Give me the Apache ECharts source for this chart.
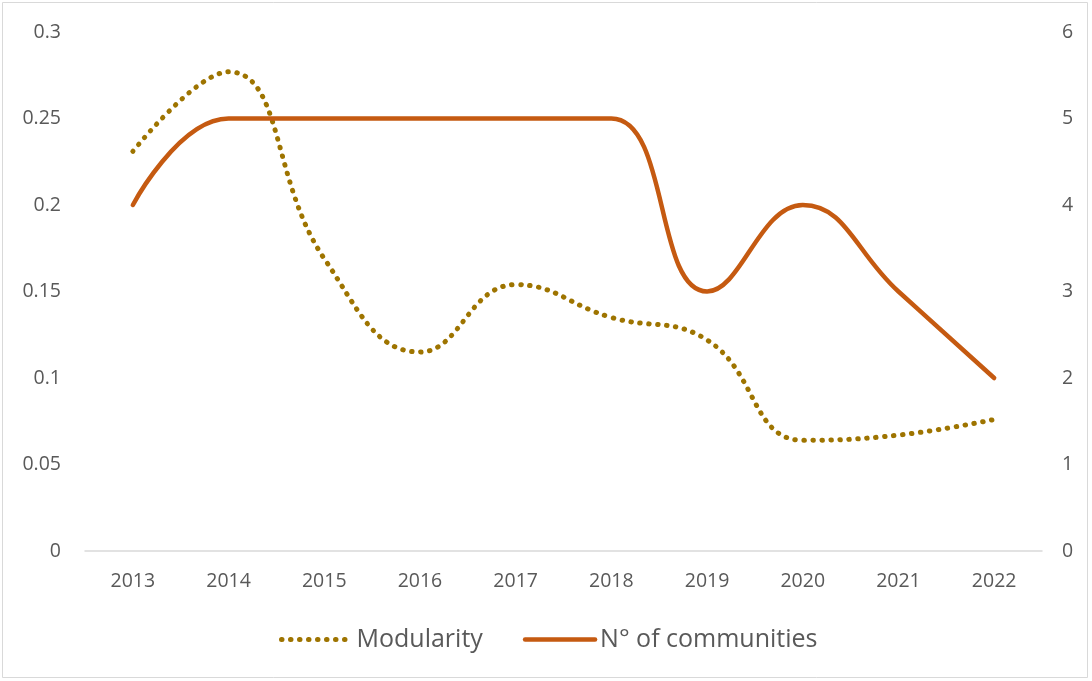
<!DOCTYPE html>
<html>
<head>
<meta charset="utf-8">
<script src="https://cdn.jsdelivr.net/npm/echarts@6/dist/echarts.min.js"></script>
<style>
  html, body { margin: 0; padding: 0; background: #fff; }
  #chart { width: 1092px; height: 681px; }
</style>
</head>
<body>
<div id="chart"></div>
<script>
// data
const years = ['2013', '2014', '2015', '2016', '2017', '2018', '2019', '2020', '2021', '2022'];
const modularity = [0.231, 0.277, 0.169, 0.115, 0.154, 0.135, 0.122, 0.064, 0.067, 0.076];
const communities = [4, 5, 5, 5, 5, 5, 3, 4, 3, 2];

const labelFont = '"Open Sans", "Liberation Sans", sans-serif';
const dotted = { color: '#9e7400', width: 5, type: [0.5, 8.5], cap: 'round' };
const solid = { color: '#c55a11', width: 4.5, cap: 'round' };

const myChart = echarts.init(document.getElementById('chart'));
myChart.setOption({
  backgroundColor: '#ffffff',
  animation: false,
  graphic: [{
    type: 'rect',
    shape: { x: 2.5, y: 2.5, width: 1085, height: 675 },
    style: { fill: 'none', stroke: '#d9d9d9', lineWidth: 1 }
  }],
  grid: { left: 85, right: 50, top: 32, bottom: 130 },
  legend: {
    top: 622,
    left: 274,
    itemWidth: 70,
    itemHeight: 6,
    itemGap: 40,
    textStyle: { fontFamily: labelFont, fontSize: 25, color: '#595959' },
    data: [
      { name: 'Modularity', itemStyle: { opacity: 0 }, lineStyle: dotted },
      { name: 'N° of communities', itemStyle: { opacity: 0 }, lineStyle: solid }
    ]
  },
  xAxis: {
    type: 'category',
    data: years,
    boundaryGap: true,
    axisLine: { lineStyle: { color: '#d9d9d9', width: 1.5 } },
    axisTick: { show: false },
    axisLabel: { fontFamily: labelFont, fontSize: 19.5, color: '#595959', margin: 20 }
  },
  yAxis: [{
    type: 'value',
    min: 0, max: 0.3, interval: 0.05,
    splitLine: { show: false },
    axisLine: { show: false },
    axisTick: { show: false },
    axisLabel: {
      fontFamily: labelFont, fontSize: 19.5, color: '#595959', margin: 24,
      formatter: v => String(Math.round(v * 100) / 100)
    }
  }, {
    type: 'value',
    min: 0, max: 6, interval: 1,
    splitLine: { show: false },
    axisLine: { show: false },
    axisTick: { show: false },
    axisLabel: { fontFamily: labelFont, fontSize: 19.5, color: '#595959', margin: 20 }
  }],
  series: [{
    name: 'Modularity',
    type: 'line',
    yAxisIndex: 0,
    data: modularity,
    smooth: 0.45,
    symbol: 'none',
    itemStyle: { color: '#9e7400' },
    lineStyle: dotted
  }, {
    name: 'N° of communities',
    type: 'line',
    yAxisIndex: 1,
    data: communities,
    smooth: 0.45,
    symbol: 'none',
    itemStyle: { color: '#c55a11' },
    lineStyle: solid
  }]
});
</script>
</body>
</html>
